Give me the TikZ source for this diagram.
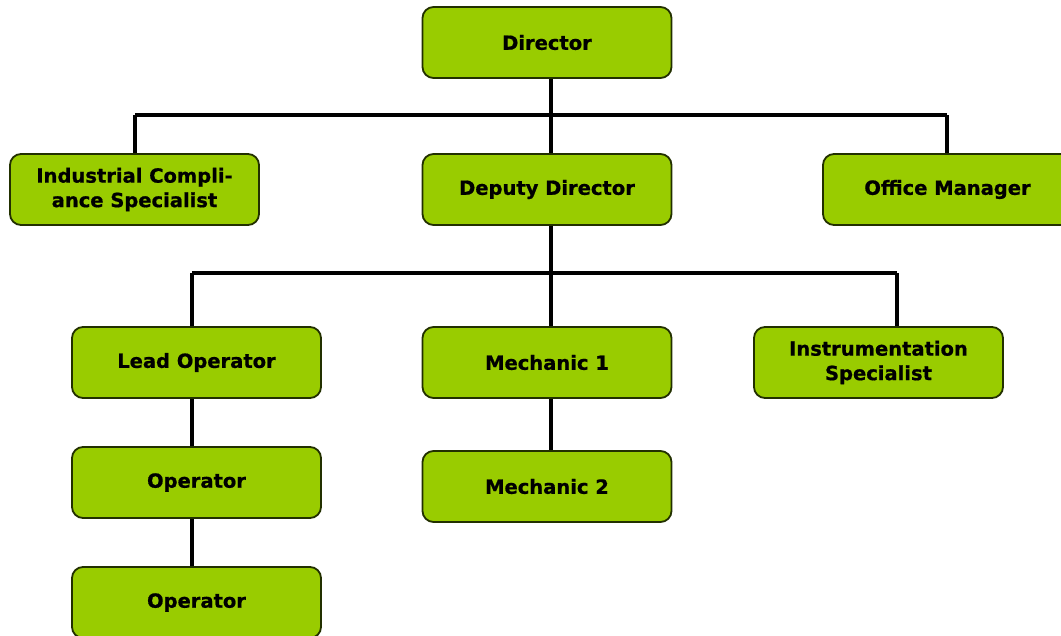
\documentclass[tikz,border=0pt]{standalone}
\usepackage{fontspec}
\setmainfont{DejaVu Sans}[BoldFeatures={FakeBold=0.8}]
\definecolor{boxfill}{HTML}{99CC00}
\definecolor{boxline}{HTML}{223000}
\tikzset{
  role/.style={draw=boxline, line width=1.8pt, fill=boxfill, rounded corners=11pt,
    minimum width=249pt, minimum height=71pt, align=center, inner sep=2pt,
    font=\bfseries\fontsize{19.5}{24.5}\selectfont, text=black},
  link/.style={line width=3.4pt, black, line join=miter}
}
\begin{document}
\begin{tikzpicture}[x=1pt,y=-1pt]
\useasboundingbox (0,0) rectangle (1061,635);
\node[role] (dir) at (547,42.5) {Director};
\node[role] (ics) at (134.5,189.5) {Industrial Compli-\\ance Specialist};
\node[role] (dd) at (547,189.5) {Deputy Director};
\node[role] (om) at (947.5,189.5) {Office Manager};
\node[role] (lead) at (196.5,362.5) {Lead Operator};
\node[role] (m1) at (547,362.5) {Mechanic 1};
\node[role] (inst) at (878.5,362.5) {Instrumentation\\Specialist};
\node[role] (op1) at (196.5,482.5) {Operator};
\node[role] (m2) at (547,486.5) {Mechanic 2};
\node[role] (op2) at (196.5,602.5) {Operator};
\coordinate (b1L) at (135,115);
\coordinate (b1C) at (551,115);
\coordinate (b1R) at (947,115);
\coordinate (b2L) at (192,273);
\coordinate (b2C) at (551,273);
\coordinate (b2R) at (897,273);
\draw[link] (dir.south -| b1C) -- (b1C);
\draw[link] (b1L) -- (b1R);
\draw[link] (b1L) -- (ics.north -| b1L);
\draw[link] (b1C) -- (dd.north -| b1C);
\draw[link] (b1R) -- (om.north -| b1R);
\draw[link] (dd.south -| b2C) -- (b2C);
\draw[link] (b2L) -- (b2R);
\draw[link] (b2L) -- (lead.north -| b2L);
\draw[link] (b2C) -- (m1.north -| b2C);
\draw[link] (b2R) -- (inst.north -| b2R);
\draw[link] (lead.south -| b2L) -- (op1.north -| b2L);
\draw[link] (op1.south -| b2L) -- (op2.north -| b2L);
\draw[link] (m1.south -| b2C) -- (m2.north -| b2C);
\end{tikzpicture}
\end{document}
